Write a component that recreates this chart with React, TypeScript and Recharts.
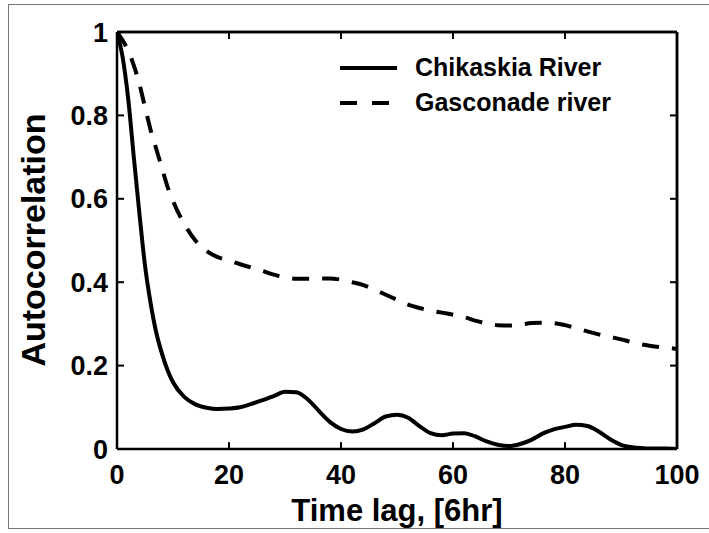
import React from "react";
import { LineChart, Line, XAxis, YAxis, ReferenceLine } from "recharts";

// time lag in 6-hour steps
const lags = [
  0, 1, 2, 3, 4, 5, 6, 7, 8, 9, 10, 12, 14, 16, 18, 20, 22, 24, 26, 28, 30, 32, 34, 36, 38, 40,
  42, 44, 46, 48, 50, 52, 54, 56, 58, 60, 62, 64, 66, 68, 70, 72, 74, 76, 78, 80, 82, 84, 86, 88,
  90, 92, 94, 96, 98, 100,
];

const chikaskia = [
  1.0, 0.94, 0.84, 0.7, 0.565, 0.44, 0.35, 0.28, 0.23, 0.19, 0.16, 0.125, 0.107, 0.099, 0.096,
  0.097, 0.1, 0.108, 0.117, 0.127, 0.137, 0.136, 0.12, 0.092, 0.065, 0.048, 0.042, 0.047, 0.062,
  0.078, 0.082, 0.075, 0.055, 0.038, 0.033, 0.037, 0.038, 0.03, 0.018, 0.01, 0.007, 0.012, 0.022,
  0.037, 0.047, 0.053, 0.058, 0.055, 0.042, 0.024, 0.01, 0.004, 0.002, 0.001, 0.001, 0.0,
];

const gasconade = [
  1.0, 0.98, 0.955, 0.92, 0.875, 0.82, 0.765, 0.72, 0.675, 0.63, 0.595, 0.54, 0.5, 0.475, 0.46,
  0.452, 0.443, 0.435, 0.427, 0.418, 0.412, 0.408, 0.408, 0.409, 0.409, 0.406, 0.4, 0.393, 0.382,
  0.37, 0.358, 0.346, 0.338, 0.332, 0.327, 0.322, 0.316, 0.308, 0.301, 0.297, 0.296, 0.298, 0.302,
  0.303, 0.302, 0.297, 0.29, 0.282, 0.275, 0.269, 0.263, 0.256, 0.25, 0.246, 0.243, 0.24,
];

const xTicks = [0, 20, 40, 60, 80, 100];
const yTicks = [0, 0.2, 0.4, 0.6, 0.8, 1];

const series = [
  { key: "chikaskia", name: "Chikaskia River", dash: undefined as string | undefined },
  { key: "gasconade", name: "Gasconade river", dash: "17 13" },
];

const rows = lags.map((lag, i) => ({ lag, chikaskia: chikaskia[i], gasconade: gasconade[i] }));

const FONT = "'Liberation Sans', Arial, Helvetica, sans-serif";
const boxLine = { stroke: "#000", strokeWidth: 2.5 };
const tickMark = { stroke: "#000", strokeWidth: 2 };
const tickFont = { fontFamily: FONT, fontWeight: 700, fontSize: 27, fill: "#000" };

// top/right axes only carry the inward tick marks, no labels
function NoLabel() {
  return <g />;
}

function LegendBox() {
  return (
    <div style={{ position: "absolute", left: 340, top: 50, fontFamily: FONT, fontWeight: 700, fontSize: 25, color: "#000" }}>
      {series.map((s) => (
        <div key={s.key} style={{ display: "flex", alignItems: "center", height: 35 }}>
          <svg width={58} height={10} style={{ marginRight: 17 }}>
            <line x1={0} y1={5} x2={57} y2={5} stroke="#000" strokeWidth={4}
              strokeDasharray={s.dash ? "17 15" : undefined} />
          </svg>
          <span style={{ lineHeight: "35px", whiteSpace: "nowrap" }}>{s.name}</span>
        </div>
      ))}
    </div>
  );
}

const titleStyle: React.CSSProperties = {
  position: "absolute",
  fontFamily: FONT,
  fontWeight: 700,
  color: "#000",
  whiteSpace: "nowrap",
  lineHeight: 1,
};

export default function App() {
  return (
    <div style={{ position: "absolute", left: 0, top: 0, width: 709, height: 533, background: "#fff" }}>
      <LineChart width={709} height={533} data={rows} margin={{ top: 22, right: 22, bottom: 0, left: 0 }}>
        <XAxis
          dataKey="lag"
          type="number"
          domain={[0, 100]}
          allowDataOverflow
          ticks={xTicks}
          height={84}
          tickSize={-7}
          tickMargin={23}
          tick={tickFont}
          axisLine={boxLine}
          tickLine={tickMark}
        />
        <XAxis
          xAxisId="top"
          orientation="top"
          dataKey="lag"
          type="number"
          domain={[0, 100]}
          allowDataOverflow
          ticks={xTicks}
          height={10}
          tickSize={-7}
          tick={<NoLabel />}
          axisLine={boxLine}
          tickLine={tickMark}
        />
        <YAxis
          type="number"
          domain={[0, 1]}
          allowDataOverflow
          ticks={yTicks}
          width={117}
          tickSize={-7}
          tickMargin={16}
          tick={tickFont}
          axisLine={boxLine}
          tickLine={tickMark}
        />
        <YAxis
          yAxisId="right"
          orientation="right"
          type="number"
          domain={[0, 1]}
          allowDataOverflow
          ticks={yTicks}
          width={10}
          tickSize={-7}
          tick={<NoLabel />}
          axisLine={boxLine}
          tickLine={tickMark}
        />
        {series.map((s) => (
          <Line
            key={s.key}
            dataKey={s.key}
            name={s.name}
            type="monotone"
            stroke="#000"
            strokeWidth={4}
            strokeDasharray={s.dash}
            dot={false}
            activeDot={false}
            isAnimationActive={false}
          />
        ))}
        <ReferenceLine x={100} stroke="#000" strokeWidth={2.5} />
        <ReferenceLine y={1} stroke="#000" strokeWidth={2.5} />
      </LineChart>
      <div style={{ ...titleStyle, fontSize: 31, left: 397, top: 510, transform: "translate(-50%, -50%)" }}>
        Time lag, [6hr]
      </div>
      <div style={{ ...titleStyle, fontSize: 34, left: 33, top: 240, transform: "translate(-50%, -50%) rotate(-90deg)" }}>
        Autocorrelation
      </div>
      <LegendBox />
      <div
        style={{
          position: "absolute",
          left: 8,
          top: 4,
          width: 701,
          height: 525,
          boxSizing: "border-box",
          border: "1.5px solid #777",
          borderRight: "none",
          pointerEvents: "none",
        }}
      />
    </div>
  );
}
